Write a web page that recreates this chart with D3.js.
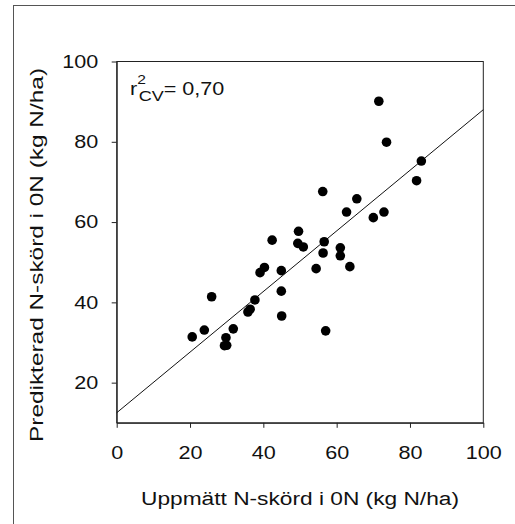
<!DOCTYPE html>
<meta charset="utf-8">
<style>
  body { margin: 0; background: #fff; }
  text { font-family: "Liberation Sans", Arial, sans-serif; fill: #111; }
  .axis path, .axis line { stroke: #222; }
</style>
<body>
<script src="https://d3js.org/d3.v7.min.js"></script>
<script>
// measured N-yield (x) and predicted N-yield (y), kg N/ha
var measured = [20.6, 23.9, 25.9, 29.4, 30.0, 29.8, 31.8, 35.8, 36.4, 37.7,
  39.1, 40.3, 42.4, 44.9, 44.9, 45.0, 49.6, 49.4, 50.9, 54.4,
  56.2, 56.6, 56.3, 57.0, 61.0, 61.0, 63.6, 62.7, 65.5, 70.0,
  72.9, 71.5, 73.6, 81.8, 83.1];
var predicted = [31.4, 33.1, 41.4, 29.2, 29.3, 31.2, 33.4, 37.6, 38.3, 40.6,
  47.4, 48.7, 55.5, 47.9, 42.8, 36.6, 57.7, 54.7, 53.8, 48.4,
  67.6, 55.1, 52.3, 32.9, 53.6, 51.6, 48.9, 62.5, 65.8, 61.1,
  62.5, 90.1, 79.9, 70.3, 75.2];
// regression line end points
var fitX = [0, 100];
var fitY = [12.5, 88.0];
var xTicks = [0, 20, 40, 60, 80, 100];
var yTicks = [20, 40, 60, 80, 100];

var width = 515, height = 524;
var stretch = 1.2; // the original lettering is a bit wide
var svg = d3.select("body").append("svg")
  .attr("width", width).attr("height", height);

// outer frame
svg.append("rect")
  .attr("x", 13.5).attr("y", 5.5)
  .attr("width", 600).attr("height", 600)
  .attr("fill", "none").attr("stroke", "#555");

var x = d3.scaleLinear().domain([0, 100]).range([116.7, 483.3]);
var y = d3.scaleLinear().domain([10, 100]).range([422.8, 61.5]);

// plot box
svg.append("rect")
  .attr("x", x(0)).attr("y", y(100))
  .attr("width", x(100) - x(0)).attr("height", y(10) - y(100))
  .attr("fill", "none").attr("stroke", "#222");

var xAxis = svg.append("g").attr("class", "axis")
  .attr("transform", "translate(0," + y(10) + ")")
  .call(d3.axisBottom(x).tickValues(xTicks).tickSize(5).tickSizeOuter(0).tickPadding(18));
xAxis.selectAll("text")
  .style("font-size", "18px").attr("fill", "#111")
  .attr("transform", "scale(" + stretch + ",1)");

var yAxis = svg.append("g").attr("class", "axis")
  .attr("transform", "translate(" + x(0) + ",0)")
  .call(d3.axisLeft(y).tickValues(yTicks).tickSize(5).tickSizeOuter(0));
yAxis.selectAll("text")
  .style("font-size", "18px").attr("fill", "#111")
  .attr("x", -18.5 / stretch)
  .attr("transform", "scale(" + stretch + ",1)");

// regression line
svg.append("line")
  .attr("x1", x(fitX[0])).attr("y1", y(fitY[0]))
  .attr("x2", x(fitX[1])).attr("y2", y(fitY[1]))
  .attr("stroke", "#111").attr("stroke-width", 1);

svg.append("g").selectAll("circle")
  .data(measured)
  .join("circle")
  .attr("cx", d => x(d))
  .attr("cy", (d, i) => y(predicted[i]))
  .attr("r", 4.8)
  .attr("fill", "#000");

// axis titles
svg.append("text")
  .attr("x", (x(0) + x(100)) / 2).attr("y", 505)
  .attr("text-anchor", "middle")
  .attr("textLength", 318).attr("lengthAdjust", "spacingAndGlyphs")
  .style("font-size", "18px")
  .text("Uppmätt N-skörd i 0N (kg N/ha)");

svg.append("text")
  .attr("transform", "translate(43,255) rotate(-90)")
  .attr("text-anchor", "middle")
  .attr("textLength", 374).attr("lengthAdjust", "spacingAndGlyphs")
  .style("font-size", "18px")
  .text("Predikterad N-skörd i 0N (kg N/ha)");

// r2 label
var r2 = svg.append("text")
  .attr("transform", "translate(130,95) scale(" + stretch + ",1)")
  .style("font-size", "18px");
r2.append("tspan").text("r");
r2.append("tspan").attr("dy", -11).style("font-size", "13px").text("2");
r2.append("tspan").attr("dx", -6).attr("dy", 17).style("font-size", "15px").text("CV");
r2.append("tspan").attr("dy", -6).text("= 0,70");
</script>
</body>
